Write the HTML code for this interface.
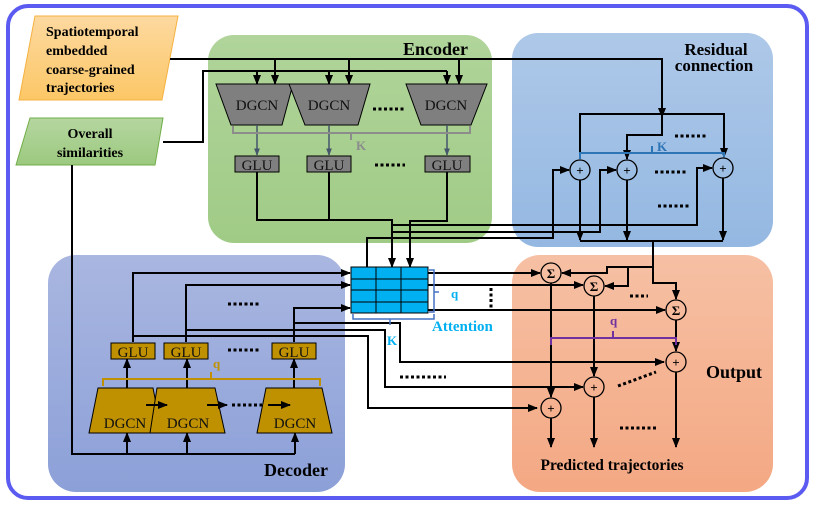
<!DOCTYPE html>
<html><head><meta charset="utf-8"><style>
html,body{margin:0;padding:0;background:#fff}
svg{display:block}
text{font-family:"Liberation Serif",serif}
</style></head><body>
<svg width="814" height="508" viewBox="0 0 814 508" xmlns="http://www.w3.org/2000/svg">
<defs>
<marker id="a" viewBox="0 0 10 10" refX="9" refY="5" markerWidth="5" markerHeight="5" orient="auto"><path d="M0,1 L10,5 L0,9z" fill="#000"/></marker>
<marker id="as" viewBox="0 0 10 10" refX="9" refY="5" markerWidth="5" markerHeight="5" orient="auto"><path d="M0,1 L10,5 L0,9z" fill="#44546a"/></marker>
<linearGradient id="go" x1="0" y1="0" x2="0" y2="1"><stop offset="0" stop-color="#fdd9a0"/><stop offset="1" stop-color="#fcc766"/></linearGradient>
<linearGradient id="gg" x1="0" y1="0" x2="0" y2="1"><stop offset="0" stop-color="#b5d6a0"/><stop offset="1" stop-color="#9cc97f"/></linearGradient>
<linearGradient id="ge" x1="0" y1="0" x2="0" y2="1"><stop offset="0" stop-color="#b0d49a"/><stop offset="1" stop-color="#a0cb86"/></linearGradient>
<linearGradient id="gr" x1="0" y1="0" x2="0" y2="1"><stop offset="0" stop-color="#aec8e8"/><stop offset="1" stop-color="#94b8e2"/></linearGradient>
<linearGradient id="gd" x1="0" y1="0" x2="0" y2="1"><stop offset="0" stop-color="#a9b6e0"/><stop offset="1" stop-color="#8ca0d8"/></linearGradient>
<linearGradient id="gp" x1="0" y1="0" x2="0" y2="1"><stop offset="0" stop-color="#f6c0a4"/><stop offset="1" stop-color="#f4a883"/></linearGradient>
</defs>
<rect x="8" y="6" width="799" height="492" rx="20" fill="#fff" stroke="#5b5bf2" stroke-width="4"/>
<!-- regions -->
<rect x="208" y="35" width="284" height="208" rx="26" fill="url(#ge)"/>
<rect x="512" y="33" width="261" height="214" rx="26" fill="url(#gr)"/>
<rect x="48" y="255" width="297" height="237" rx="28" fill="url(#gd)"/>
<rect x="512" y="255" width="261" height="237" rx="28" fill="url(#gp)"/>
<text x="468" y="55" font-size="18" font-weight="bold" text-anchor="end">Encoder</text>
<text x="716" y="55" font-size="17" font-weight="bold" text-anchor="middle">Residual</text>
<text x="714" y="71" font-size="17" font-weight="bold" text-anchor="middle">connection</text>
<text x="328" y="476" font-size="18" font-weight="bold" text-anchor="end">Decoder</text>
<text x="762" y="378" font-size="18" font-weight="bold" text-anchor="end">Output</text>
<text x="612" y="470" font-size="15.5" font-weight="bold" text-anchor="middle">Predicted trajectories</text>
<!-- inputs -->
<polygon points="35,16 178,16 162,100 19,100" fill="url(#go)" stroke="#f4b140" stroke-width="1"/>
<g font-size="14" font-weight="bold"><text x="46" y="36">Spatiotemporal</text><text x="46" y="55">embedded</text><text x="46" y="74">coarse-grained</text><text x="46" y="92">trajectories</text></g>
<polygon points="30,118 163,118 155,165 16,165" fill="url(#gg)" stroke="#70ad47" stroke-width="1"/>
<g font-size="14" font-weight="bold" text-anchor="middle"><text x="90" y="138">Overall</text><text x="90" y="157">similarities</text></g>
<g fill="none" stroke="#000" stroke-width="2">
<!-- encoder inputs -->
<polyline points="170,59 662,59 662,117" marker-end="url(#a)"/>
<polyline points="163,142 203,142 203,71 447,71"/>
<line x1="275" y1="59" x2="275" y2="84" marker-end="url(#a)"/>
<line x1="349" y1="59" x2="349" y2="84" marker-end="url(#a)"/>
<line x1="459" y1="59" x2="459" y2="84" marker-end="url(#a)"/>
<line x1="257" y1="71" x2="257" y2="84" marker-end="url(#a)"/>
<line x1="329" y1="71" x2="329" y2="84" marker-end="url(#a)"/>
<line x1="447" y1="71" x2="447" y2="84" marker-end="url(#a)"/>
<!-- GLU outs -->
<polyline points="257,172 257,220 392,220 392,267" marker-end="url(#a)"/>
<line x1="329" y1="172" x2="329" y2="220"/>
<polyline points="447,172 447,221 410,221 410,267" marker-end="url(#a)"/>
<polyline points="392,225 697,225 697,168 712,168" marker-end="url(#a)"/>
<polyline points="393,232 600,232 600,170 616,170" marker-end="url(#a)"/>
<polyline points="367,267 367,238 553,238 553,170 569,170" marker-end="url(#a)"/>
<!-- residual loops -->
<polyline points="662,117 662,135 627,135 627,159" marker-end="url(#a)"/>
<polyline points="580,159 580,114 724,114 724,157" marker-end="url(#a)"/>
<line x1="580" y1="180" x2="580" y2="240" marker-end="url(#a)"/>
<line x1="627" y1="180" x2="627" y2="240" marker-end="url(#a)"/>
<line x1="723" y1="178" x2="723" y2="240" marker-end="url(#a)"/>
<polyline points="580,241 723,241"/>
<polyline points="653,241 653,283 676,283 676,299" marker-end="url(#a)"/>
<polyline points="653,267 607,267 607,273 562,273" marker-end="url(#a)"/>
<polyline points="628,267 628,286 605,286" marker-end="url(#a)"/>
<!-- overall to decoder -->
<polyline points="72,165 72,454 295,454"/>
<line x1="127" y1="454" x2="127" y2="433" marker-end="url(#a)"/>
<line x1="187" y1="454" x2="187" y2="433" marker-end="url(#a)"/>
<line x1="295" y1="454" x2="295" y2="433" marker-end="url(#a)"/>
<line x1="127" y1="388" x2="127" y2="359" marker-end="url(#a)"/>
<line x1="187" y1="388" x2="187" y2="359" marker-end="url(#a)"/>
<line x1="294" y1="388" x2="294" y2="359" marker-end="url(#a)"/>
<!-- decoder outs -->
<polyline points="133,342 133,273 350,273" marker-end="url(#a)"/>
<polyline points="186,342 186,285 350,285" marker-end="url(#a)"/>
<polyline points="294,342 294,308 350,308" marker-end="url(#a)"/>
<polyline points="133,336 368,336 368,408 537,408" marker-end="url(#a)"/>
<polyline points="186,330 385,330 385,387 583,387" marker-end="url(#a)"/>
<polyline points="294,323 400,323 400,362 664,362" marker-end="url(#a)"/>
<!-- attention outs -->
<line x1="428" y1="273" x2="540" y2="273" marker-end="url(#a)"/>
<line x1="428" y1="285" x2="583" y2="285" marker-end="url(#a)"/>
<line x1="428" y1="310" x2="665" y2="310" marker-end="url(#a)"/>
<line x1="551" y1="283" x2="551" y2="397" marker-end="url(#a)"/>
<line x1="594" y1="296" x2="594" y2="376" marker-end="url(#a)"/>
<line x1="676" y1="320" x2="676" y2="351" marker-end="url(#a)"/>
<line x1="551" y1="418" x2="551" y2="447" marker-end="url(#a)"/>
<line x1="594" y1="397" x2="594" y2="447" marker-end="url(#a)"/>
<line x1="676" y1="372" x2="676" y2="447" marker-end="url(#a)"/>
</g>
<!-- encoder nodes -->
<g fill="#7f7f7f" stroke="#000" stroke-width="1">
<polygon points="216,84 293,84 282,125 231,125"/>
<polygon points="289,84 370,84 358,125 305,125"/>
<polygon points="406,84 487,84 471,125 421,125"/>
<rect x="235" y="156" width="44" height="16"/><rect x="307" y="156" width="44" height="16"/><rect x="425" y="156" width="45" height="16"/>
</g>
<g font-size="15" text-anchor="middle" fill="#111"><text x="257" y="110">DGCN</text><text x="329" y="110">DGCN</text><text x="446" y="110">DGCN</text>
<text x="257" y="170">GLU</text><text x="329" y="170">GLU</text><text x="447" y="170">GLU</text></g>
<g stroke="#44546a" stroke-width="1.5">
<line x1="257" y1="125" x2="257" y2="155" marker-end="url(#as)"/><line x1="329" y1="125" x2="329" y2="155" marker-end="url(#as)"/><line x1="447" y1="125" x2="447" y2="155" marker-end="url(#as)"/></g>
<polyline points="233,126 233,133 470,133 470,126" fill="none" stroke="#8c8c8c" stroke-width="2"/>
<line x1="351" y1="133" x2="351" y2="140" stroke="#8c8c8c" stroke-width="2"/>
<text x="356" y="150" font-size="13" font-weight="bold" fill="#8c8c8c">K</text>
<!-- residual nodes -->
<polyline points="580,159 580,153 724,153 724,157" fill="none" stroke="#2e75b6" stroke-width="2"/>
<line x1="652" y1="153" x2="652" y2="146" stroke="#2e75b6" stroke-width="2"/>
<text x="657" y="151" font-size="13" font-weight="bold" fill="#2e75b6">K</text>
<g fill="none" stroke="#000" stroke-width="1.3"><circle cx="580" cy="170" r="10"/><circle cx="627" cy="170" r="10"/><circle cx="723" cy="168" r="10"/>
<circle cx="551" cy="273" r="10"/><circle cx="594" cy="286" r="10"/><circle cx="676" cy="310" r="10"/>
<circle cx="551" cy="408" r="10"/><circle cx="594" cy="387" r="10"/><circle cx="676" cy="362" r="10"/></g>
<g font-size="13" font-weight="bold" text-anchor="middle" font-family="Liberation Sans,sans-serif">
<text x="580" y="175">+</text><text x="627" y="175">+</text><text x="723" y="173">+</text>
<text x="551" y="413">+</text><text x="594" y="392">+</text><text x="676" y="367">+</text>
<text x="551" y="278">Σ</text><text x="594" y="291">Σ</text><text x="676" y="315">Σ</text></g>
<!-- decoder nodes -->
<g fill="#bf9000" stroke="#000" stroke-width="1">
<polygon points="98,388 153,388 162,433 89,433"/>
<polygon points="157,388 215,388 225,433 150,433"/>
<polygon points="266,388 322,388 332,433 257,433"/>
<rect x="111" y="343" width="44" height="16"/><rect x="164" y="343" width="44" height="16"/><rect x="272" y="343" width="44" height="16"/>
</g>
<g font-size="15" text-anchor="middle" fill="#111"><text x="125" y="428">DGCN</text><text x="188" y="428">DGCN</text><text x="295" y="428">DGCN</text>
<text x="133" y="357">GLU</text><text x="186" y="357">GLU</text><text x="294" y="357">GLU</text></g>
<g stroke="#000" stroke-width="2"><line x1="146" y1="405" x2="167" y2="405" marker-end="url(#a)"/><line x1="207" y1="405" x2="227" y2="405" marker-end="url(#a)"/><line x1="268" y1="405" x2="290" y2="405" marker-end="url(#a)"/></g>
<polyline points="103,386 103,379 320,379 320,386" fill="none" stroke="#bf9000" stroke-width="2"/>
<line x1="211" y1="379" x2="211" y2="372" stroke="#bf9000" stroke-width="2"/>
<text x="213" y="368" font-size="13" font-weight="bold" fill="#bf9000">q</text>
<!-- attention -->
<rect x="351" y="267" width="77" height="46" fill="#00b0f0" stroke="#000" stroke-width="1"/>
<g stroke="#000" stroke-width="1"><line x1="376" y1="267" x2="376" y2="313"/><line x1="401" y1="267" x2="401" y2="313"/>
<line x1="351" y1="279" x2="428" y2="279"/><line x1="351" y1="290" x2="428" y2="290"/><line x1="351" y1="302" x2="428" y2="302"/></g>
<polyline points="429,270 434,270 434,312 429,312" fill="none" stroke="#4472c4" stroke-width="1.5"/>
<line x1="434" y1="292" x2="439" y2="292" stroke="#4472c4" stroke-width="1.5"/>
<text x="451" y="298" font-size="13" font-weight="bold" fill="#00b0f0">q</text>
<polyline points="353,314 353,319 434,319 434,314" fill="none" stroke="#4472c4" stroke-width="1.5"/>
<line x1="390" y1="319" x2="390" y2="325" stroke="#4472c4" stroke-width="1.5"/>
<text x="387" y="345" font-size="13" font-weight="bold" fill="#00b0f0">K</text>
<text x="432" y="331" font-size="15" font-weight="bold" fill="#00b0f0">Attention</text>
<!-- output bracket -->
<polyline points="551,345 551,338 676,338 676,345" fill="none" stroke="#7030a0" stroke-width="2"/>
<line x1="613" y1="338" x2="613" y2="331" stroke="#7030a0" stroke-width="2"/>
<text x="610" y="325" font-size="13" font-weight="bold" fill="#7030a0">q</text>
<!-- dots -->
<g stroke="#000" stroke-width="3" stroke-dasharray="3,2.5">
<line x1="373" y1="109" x2="405" y2="109"/><line x1="375" y1="165" x2="405" y2="165"/>
<line x1="675" y1="136" x2="707" y2="136"/><line x1="655" y1="172" x2="688" y2="172"/><line x1="658" y1="206" x2="690" y2="206"/>
<line x1="228" y1="304" x2="260" y2="304"/><line x1="228" y1="350" x2="260" y2="350"/><line x1="232" y1="405" x2="262" y2="405"/>
<line x1="400" y1="377" x2="446" y2="377"/><line x1="491" y1="288" x2="491" y2="310"/>
<line x1="630" y1="296" x2="648" y2="296"/><line x1="620" y1="428" x2="656" y2="428"/>
<line x1="618" y1="386" x2="656" y2="372"/></g>
</svg>
</body></html>
